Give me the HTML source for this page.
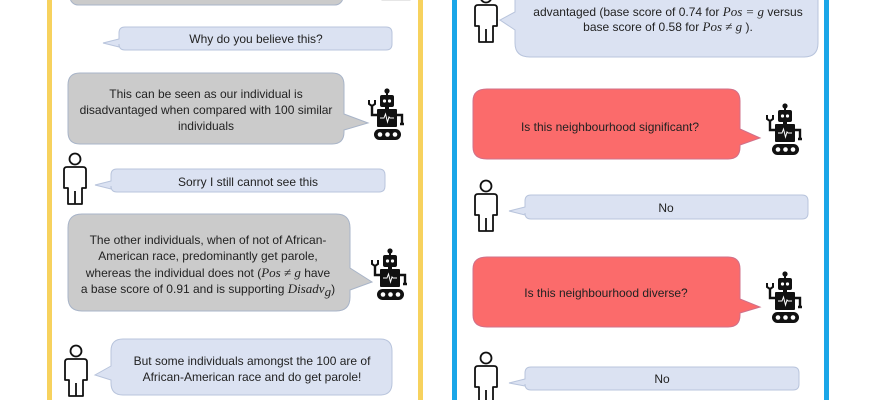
<!DOCTYPE html>
<html><head><meta charset="utf-8"><style>
html,body{margin:0;padding:0;background:#fff;}
svg{display:block;}
text{font-family:"Liberation Sans",sans-serif;font-size:12px;fill:#222;}
.m{font-family:"Liberation Serif",serif;font-style:italic;font-size:13px;}
</style></head><body>
<svg width="870" height="400" viewBox="0 0 870 400" xmlns="http://www.w3.org/2000/svg">
<defs>
<symbol id="robot" viewBox="0 0 38 52" overflow="visible">
<circle cx="19" cy="3" r="2.6" fill="#111"/>
<rect x="18" y="3" width="2" height="5" fill="#111"/>
<rect x="12" y="7" width="14" height="12" rx="2" fill="#111"/>
<circle cx="16.5" cy="13" r="1.6" fill="#fff"/>
<circle cx="21.5" cy="13" r="1.6" fill="#fff"/>
<rect x="17" y="19" width="4" height="3" fill="#111"/>
<rect x="9" y="21" width="20" height="18" rx="1" fill="#111"/>
<polyline points="12,30 16,30 17.5,26 19.5,34 21,29 22,30 26,30" fill="none" stroke="#fff" stroke-width="1"/>
<polyline points="9,27 4,27 4,17" fill="none" stroke="#111" stroke-width="2.4"/>
<polyline points="1,12 1,16 4,18 7,16 7,12" fill="none" stroke="#111" stroke-width="2"/>
<path d="M29,27 H34 V36 M32,36 H36" fill="none" stroke="#111" stroke-width="2.4"/>
<rect x="6" y="41" width="27" height="11" rx="5.5" fill="#111"/>
<circle cx="12" cy="46.5" r="2.3" fill="#fff"/>
<circle cx="19.5" cy="46.5" r="2.3" fill="#fff"/>
<circle cx="27" cy="46.5" r="2.3" fill="#fff"/>
</symbol>
<symbol id="person" viewBox="0 0 26 52" overflow="visible">
<circle cx="13" cy="6" r="5.5" fill="none" stroke="#111" stroke-width="1.8"/>
<path d="M5,14 H21 Q24,14 24,17 V35 H20 V51 H6 V35 H2 V17 Q2,14 5,14 Z M13,38 V51" fill="none" stroke="#111" stroke-width="1.8" stroke-linejoin="round"/>
</symbol>
</defs>

<rect x="49.5" y="-10" width="371" height="420" fill="none" stroke="#f7d25e" stroke-width="5"/>
<rect x="454.5" y="-10" width="372" height="420" fill="none" stroke="#1aa6e8" stroke-width="5"/>

<rect x="70" y="-20" width="273" height="25" rx="8" fill="#cbcbcb" stroke="#a8b4c8"/>
<rect x="382" y="-10" width="28" height="10" fill="#fff" stroke="#ccc"/>

<path d="M125,27 H386 Q392,27 392,33 V44 Q392,50 386,50 H125 Q119,50 119,44 V47 L103,43 L119,39 V33 Q119,27 125,27 Z" fill="#dbe2f2" stroke="#b8c4dc"/>
<text x="256" y="43" text-anchor="middle">Why do you believe this?</text>

<path d="M80,73 H332 Q344,73 344,85 V114 L368,123 L344,130 V132 Q344,144 332,144 H80 Q68,144 68,132 V85 Q68,73 80,73 Z" fill="#cbcbcb" stroke="#a8b4c8"/>
<text x="206" y="98" text-anchor="middle">This can be seen as our individual is</text>
<text x="206" y="114" text-anchor="middle">disadvantaged when compared with 100 similar</text>
<text x="206" y="130" text-anchor="middle">individuals</text>
<use href="#robot" x="368" y="88" width="38" height="52"/>

<use href="#person" x="62" y="153" width="26" height="52"/>
<path d="M117,169 H379 Q385,169 385,175 V186 Q385,192 379,192 H117 Q111,192 111,186 V189 L95,185 L111,181 V175 Q111,169 117,169 Z" fill="#dbe2f2" stroke="#b8c4dc"/>
<text x="248" y="186" text-anchor="middle">Sorry I still cannot see this</text>

<path d="M82,214 H336 Q350,214 350,228 V268 L372,282 L350,290 V297 Q350,311 336,311 H82 Q68,311 68,297 V228 Q68,214 82,214 Z" fill="#cbcbcb" stroke="#a8b4c8"/>
<text x="208" y="244" text-anchor="middle">The other individuals, when of not of African-</text>
<text x="208" y="260" text-anchor="middle">American race,  predominantly get parole,</text>
<text x="208" y="277" text-anchor="middle">whereas the individual does not (<tspan class="m">Pos ≠ g</tspan> have</text>
<text x="208" y="293" text-anchor="middle">a base score of 0.91 and is supporting <tspan class="m">Disadv</tspan><tspan class="m" font-size="9" dy="3">g</tspan><tspan dy="-3">)</tspan></text>
<use href="#robot" x="370" y="248" width="40" height="52"/>

<use href="#person" x="63" y="345" width="26" height="52"/>
<path d="M123,339 H380 Q392,339 392,351 V383 Q392,395 380,395 H123 Q111,395 111,383 V380 L95,375 L111,366 V351 Q111,339 123,339 Z" fill="#dbe2f2" stroke="#b8c4dc"/>
<text x="252" y="365" text-anchor="middle">But some individuals amongst the 100 are of</text>
<text x="252" y="381" text-anchor="middle">African-American race and do get parole!</text>

<use href="#person" x="473" y="-9" width="26" height="52"/>
<path d="M530,-20 H804 Q818,-20 818,-6 V43 Q818,57 804,57 H530 Q515,57 515,43 V30 L500,20 L515,12 V-6 Q515,-20 530,-20 Z" fill="#dbe2f2" stroke="#b8c4dc"/>
<text x="668" y="16" text-anchor="middle">advantaged (base score of 0.74 for <tspan class="m">Pos = g</tspan> versus</text>
<text x="668" y="31" text-anchor="middle">base score of 0.58 for <tspan class="m">Pos ≠ g</tspan> ).</text>

<path d="M487,89 H728 Q740,89 740,101 V129 L760,138 L740,145 V147 Q740,159 728,159 H487 Q473,159 473,147 V101 Q473,89 487,89 Z" fill="#fb6b6b" stroke="#d0708a"/>
<text x="610" y="131" text-anchor="middle">Is this neighbourhood significant?</text>
<use href="#robot" x="765" y="103" width="40" height="52"/>

<use href="#person" x="473" y="180" width="26" height="52"/>
<path d="M531,195 H802 Q808,195 808,201 V213 Q808,219 802,219 H531 Q525,219 525,213 V215 L509,211 L525,207 V201 Q525,195 531,195 Z" fill="#dbe2f2" stroke="#b8c4dc"/>
<text x="666" y="212" text-anchor="middle">No</text>

<path d="M487,257 H728 Q740,257 740,269 V299 L760,307 L740,313 V315 Q740,327 728,327 H487 Q473,327 473,315 V269 Q473,257 487,257 Z" fill="#fb6b6b" stroke="#d0708a"/>
<text x="606" y="297" text-anchor="middle">Is this neighbourhood diverse?</text>
<use href="#robot" x="765" y="271" width="40" height="52"/>

<use href="#person" x="473" y="352" width="26" height="52"/>
<path d="M531,367 H793 Q799,367 799,373 V384 Q799,390 793,390 H531 Q525,390 525,384 V386 L509,383 L525,379 V373 Q525,367 531,367 Z" fill="#dbe2f2" stroke="#b8c4dc"/>
<text x="662" y="383" text-anchor="middle">No</text>
</svg>
</body></html>
